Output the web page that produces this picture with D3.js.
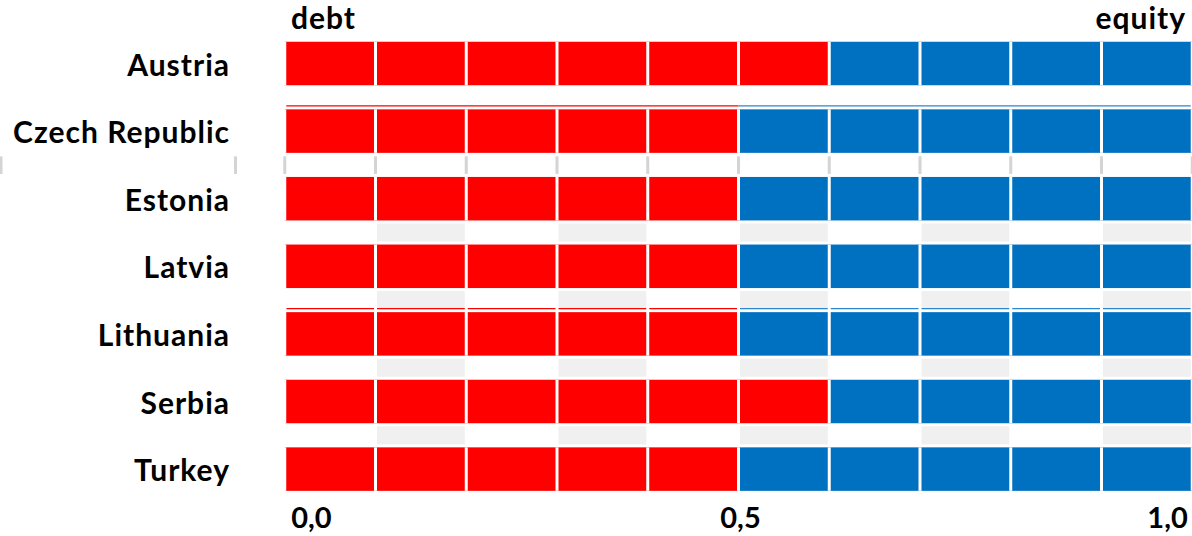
<!DOCTYPE html>
<html>
<head>
<meta charset="utf-8">
<script src="https://cdn.jsdelivr.net/npm/d3@7"></script>
<style>
  html, body { margin: 0; padding: 0; background: #fff; }
  svg { display: block; }
  text { font-family: Lato, "Open Sans", sans-serif; font-weight: 700; fill: #000; }
</style>
</head>
<body>
<svg id="chart" width="1192" height="536"></svg>
<script>
// Debt vs equity financing shares by country
const countries = ["Austria", "Czech Republic", "Estonia", "Latvia", "Lithuania", "Serbia", "Turkey"];
const debtShare = [0.6, 0.5, 0.5, 0.5, 0.5, 0.6, 0.5];
const equityShare = [0.4, 0.5, 0.5, 0.5, 0.5, 0.4, 0.5];
const tickValues = [0, 0.5, 1];
const tickLabels = ["0,0", "0,5", "1,0"];
const seriesNames = ["debt", "equity"];

const RED = "#ff0000", BLUE = "#0070c0", STRIPE = "#f0f0f0", TICK = "#d4d4d4";

const svg = d3.select("#chart");

const x = d3.scaleLinear().domain([0, 1]).range([284.75, 1192.25]);
const step = 67.6, gap = 24.1;
const y = d3.scaleBand()
  .domain(countries)
  .range([41.75 - gap / 2, 41.75 - gap / 2 + step * countries.length])
  .paddingInner(gap / step)
  .paddingOuter(gap / step / 2);
const bw = y.bandwidth();

const rows = countries.map((c, i) => ({ country: c, debt: debtShare[i], equity: equityShare[i] }));
const cells = d3.range(10).map(k => k / 10);

// alternating light stripes in the gaps between lower rows
const stripeGaps = [2, 3, 4, 5];
const gStripe = svg.append("g");
stripeGaps.forEach(i => {
  const top = y(countries[i]) + bw + 3;
  const bottom = y(countries[i + 1]) - 3;
  cells.filter((v, k) => k % 2 === 1).forEach(v => {
    gStripe.append("rect")
      .attr("x", x(v) + 1.5)
      .attr("y", top)
      .attr("width", x(v + 0.1) - x(v) - 3)
      .attr("height", bottom - top)
      .attr("fill", STRIPE);
  });
});

// light tick marks in the gap below the second row
{
  const top = y(countries[1]) + bw + 3.5;
  const bottom = y(countries[2]) - 3;
  const xs = d3.range(11).map(k => x(k / 10)).concat([1, 235.5]);
  svg.append("g").selectAll("rect").data(xs).join("rect")
    .attr("x", d => d - 1.5)
    .attr("y", top)
    .attr("width", 3)
    .attr("height", bottom - top)
    .attr("fill", TICK);
}

// bars: debt segment then equity segment
const gBars = svg.append("g");
gBars.selectAll("rect.debt").data(rows).join("rect")
  .attr("class", "debt")
  .attr("x", x(0))
  .attr("y", d => y(d.country))
  .attr("width", d => x(d.debt) - x(0))
  .attr("height", bw)
  .attr("fill", RED);
gBars.selectAll("rect.equity").data(rows).join("rect")
  .attr("class", "equity")
  .attr("x", d => x(d.debt))
  .attr("y", d => y(d.country))
  .attr("width", d => x(d.debt + d.equity) - x(d.debt))
  .attr("height", bw)
  .attr("fill", BLUE);

// thin rules just above the Czech Republic and Lithuania bars
[1, 4].forEach(i => {
  const d = rows[i];
  const ly = y(d.country) - 3.5;
  gBars.append("line")
    .attr("x1", x(0) + 1.5).attr("x2", x(d.debt))
    .attr("y1", ly).attr("y2", ly)
    .attr("stroke", RED).attr("stroke-width", 1.2);
  gBars.append("line")
    .attr("x1", x(d.debt)).attr("x2", x(1) - 1.5)
    .attr("y1", ly).attr("y2", ly)
    .attr("stroke", "#2a86d0").attr("stroke-width", 1.2);
});

// white grid lines cutting bars into tenths
const gGrid = svg.append("g");
rows.forEach(d => {
  gGrid.selectAll(null).data(d3.range(11).map(k => k / 10)).join("line")
    .attr("x1", v => x(v)).attr("x2", v => x(v))
    .attr("y1", y(d.country) - (d.country === "Lithuania" ? 6 : 0))
    .attr("y2", y(d.country) + bw)
    .attr("stroke", "#fff")
    .attr("stroke-width", 3);
});

// category labels
svg.append("g").selectAll("text").data(countries).join("text")
  .attr("x", 230)
  .attr("y", d => y(d) + bw / 2)
  .attr("dy", "0.4em")
  .attr("text-anchor", "end")
  .attr("font-size", 30)
  .attr("letter-spacing", 1)
  .text(d => d);

// series captions
svg.append("text").attr("x", 291).attr("y", 29).attr("font-size", 30)
  .attr("letter-spacing", 1).text(seriesNames[0]);
svg.append("text").attr("x", 1186).attr("y", 29).attr("font-size", 30)
  .attr("letter-spacing", 1).attr("text-anchor", "end").text(seriesNames[1]);

// value axis
const axis = d3.axisBottom(x)
  .tickValues(tickValues)
  .tickFormat((v, i) => tickLabels[i])
  .tickSize(0)
  .tickPadding(0);
const gAxis = svg.append("g").attr("transform", "translate(0,528)").call(axis);
gAxis.select(".domain").remove();
gAxis.selectAll("text")
  .attr("font-size", 29)
  .attr("font-family", "Lato, 'Open Sans', sans-serif")
  .attr("font-weight", 700)
  .attr("fill", "#000")
  .attr("dy", 0)
  .attr("text-anchor", (v, i) => i === 0 ? "start" : i === tickValues.length - 1 ? "end" : "middle")
  .attr("dx", (v, i) => i === 0 ? 6 : i === tickValues.length - 1 ? -5 : 1.5);
</script>
</body>
</html>
